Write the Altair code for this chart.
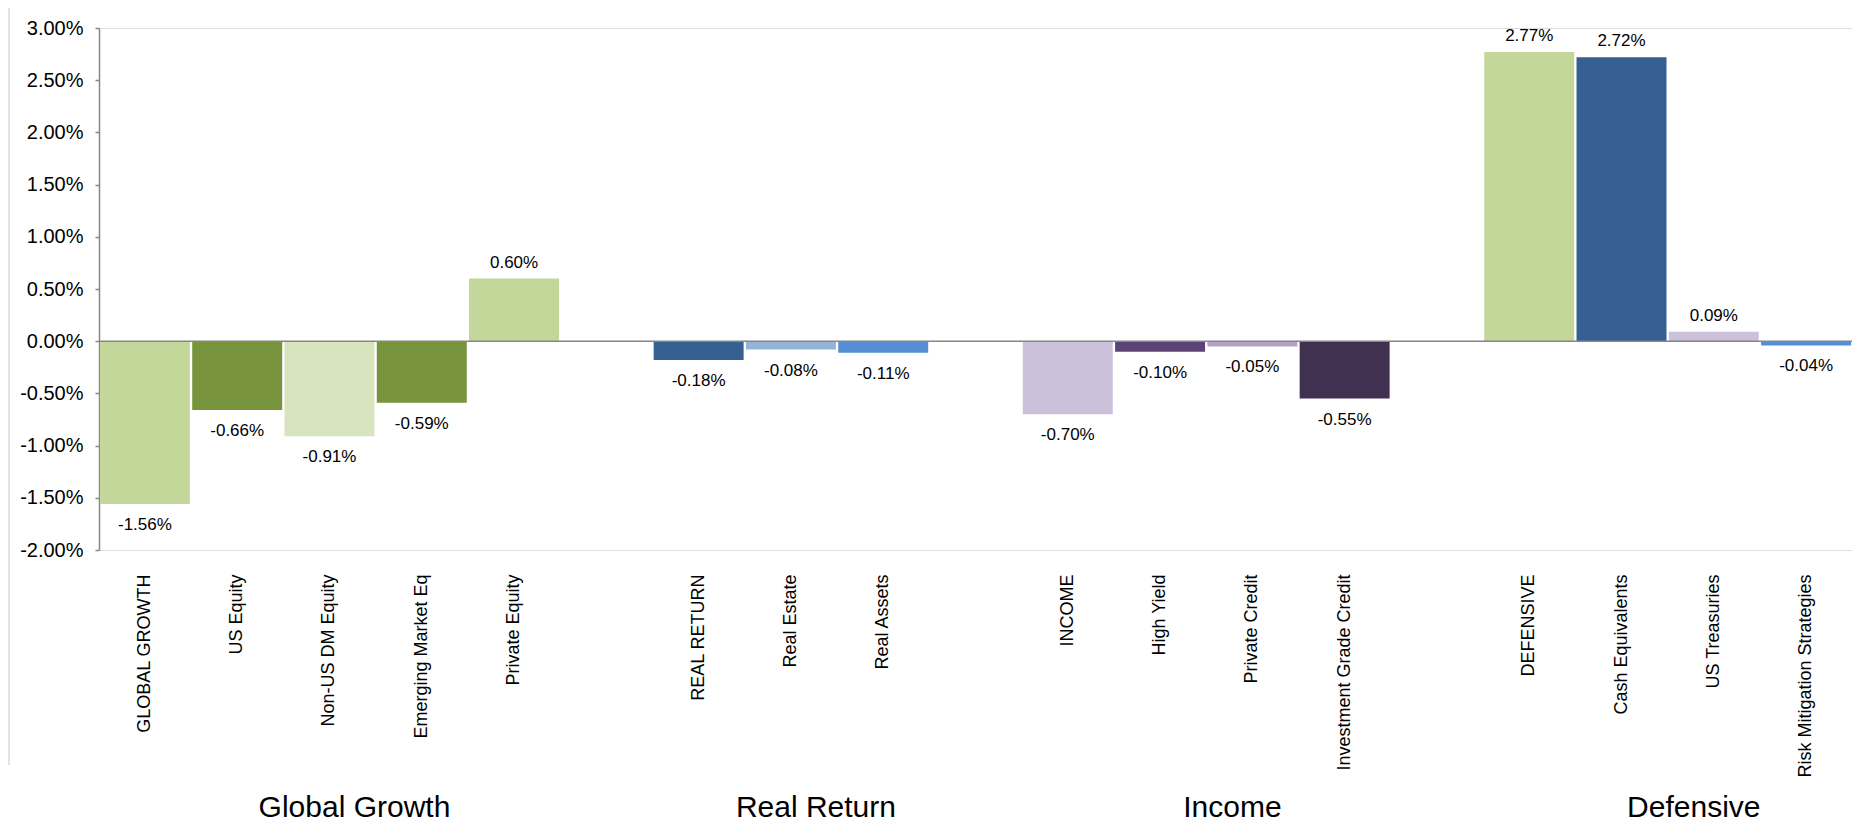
import altair as alt
import pandas as pd

# ---- data ----
categories = ["GLOBAL GROWTH", "US Equity", "Non-US DM Equity", "Emerging Market Eq", "Private Equity",
              "REAL RETURN", "Real Estate", "Real Assets",
              "INCOME", "High Yield", "Private Credit", "Investment Grade Credit",
              "DEFENSIVE", "Cash Equivalents", "US Treasuries", "Risk Mitigation Strategies"]
values = [-1.56, -0.66, -0.91, -0.59, 0.60,
          -0.18, -0.08, -0.11,
          -0.70, -0.10, -0.05, -0.55,
          2.77, 2.72, 0.09, -0.04]
groups = ["Global Growth"] * 5 + ["Real Return"] * 3 + ["Income"] * 4 + ["Defensive"] * 4
colors = ["#C4D79B", "#77933C", "#D7E4BD", "#77933C", "#C4D79B",
          "#376092", "#95B3D7", "#558ED5",
          "#CCC1DA", "#5A4376", "#B3A2C7", "#403151",
          "#C4D79B", "#376092", "#CCC1DA", "#558ED5"]

# x order with one empty slot between groups
spacers = [" ", "  ", "   "]
x_order = (categories[0:5] + [spacers[0]] + categories[5:8] + [spacers[1]]
           + categories[8:12] + [spacers[2]] + categories[12:16])

group_titles_odd = ["Global Growth", "Real Return"]
group_anchor_odd = ["Non-US DM Equity", "Real Estate"]
group_titles_even = ["Income", "Defensive"]
group_anchor_even = ["Private Credit", "US Treasuries"]

y_ticks = [-2.0, -1.5, -1.0, -0.5, 0.0, 0.5, 1.0, 1.5, 2.0, 2.5, 3.0]

FONT = "Liberation Sans"
PCT = "(datum.value < 0 ? '-' : '') + format(abs(datum.value), '.2f') + '%'"

df = pd.DataFrame({"cat": categories, "value": values, "group": groups})
odd_df = pd.DataFrame({"title": group_titles_odd, "anchor": group_anchor_odd})
even_df = pd.DataFrame({"title": group_titles_even, "anchor": group_anchor_even})

x_scale = alt.Scale(domain=x_order, paddingInner=0.025, paddingOuter=0.01)
y_scale = alt.Scale(domain=[-2, 3], nice=False)

x_enc = alt.X("cat:N", scale=x_scale, sort=x_order,
              axis=alt.Axis(title=None, labelAngle=270, labelAlign="right", labelBaseline="middle",
                            labelPadding=24, ticks=False, domain=False, labelFontSize=18,
                            labelFont=FONT, labelColor="#000000", labelLimit=400))
y_enc = alt.Y("value:Q", scale=y_scale,
              axis=alt.Axis(title=None, values=y_ticks, grid=False,
                            labelExpr=PCT,
                            domainColor="#868686", domainWidth=1.5, tickColor="#868686",
                            tickSize=4, tickWidth=1.5, labelPadding=12, labelFontSize=20,
                            labelFont=FONT, labelColor="#000000"))

base = alt.Chart(df)

bars = base.mark_bar().encode(
    x=x_enc,
    y=y_enc,
    y2=alt.datum(0),
    color=alt.Color("cat:N", scale=alt.Scale(domain=categories, range=colors), legend=None),
)

zero = alt.Chart(pd.DataFrame({"z": [0]})).mark_rule(color="#868686", strokeWidth=1.5).encode(
    y=alt.Y("z:Q", scale=y_scale)
)

lbl = base.transform_calculate(lbl=PCT)

pos_labels = lbl.transform_filter("datum.value >= 0").mark_text(
    baseline="alphabetic", dy=-11, fontSize=17, font=FONT, color="#000000"
).encode(x=alt.X("cat:N", scale=x_scale, sort=x_order), y=alt.Y("value:Q", scale=y_scale), text="lbl:N")

neg_labels = lbl.transform_filter("datum.value < 0").mark_text(
    baseline="alphabetic", dy=26, fontSize=17, font=FONT, color="#000000"
).encode(x=alt.X("cat:N", scale=x_scale, sort=x_order), y=alt.Y("value:Q", scale=y_scale), text="lbl:N")

titles_odd = alt.Chart(odd_df).mark_text(
    baseline="alphabetic", dx=25, fontSize=30, font=FONT, color="#000000"
).encode(x=alt.X("anchor:N", scale=x_scale, sort=x_order, bandPosition=0.5),
         y=alt.value(789), text="title:N")

titles_even = alt.Chart(even_df).mark_text(
    baseline="alphabetic", dx=25, fontSize=30, font=FONT, color="#000000"
).encode(x=alt.X("anchor:N", scale=x_scale, sort=x_order, bandPosition=0),
         y=alt.value(789), text="title:N")

frame = alt.Chart(pd.DataFrame({"z": [0]})).mark_rule(color="#D9D9D9", strokeWidth=1.5).encode(
    x=alt.value(-90), y=alt.value(-28), y2=alt.value(737)
)

chart = alt.layer(bars, zero, pos_labels, neg_labels, titles_odd, titles_even, frame).properties(
    width=1753, height=522,
    autosize=alt.AutoSizeParams(type="none"),
    padding={"left": 91, "top": 20, "right": 0, "bottom": 277},
).configure_view(strokeWidth=0).configure(background="#FFFFFF")

chart.save("out.html", embed_options={"renderer": "svg", "actions": False})
